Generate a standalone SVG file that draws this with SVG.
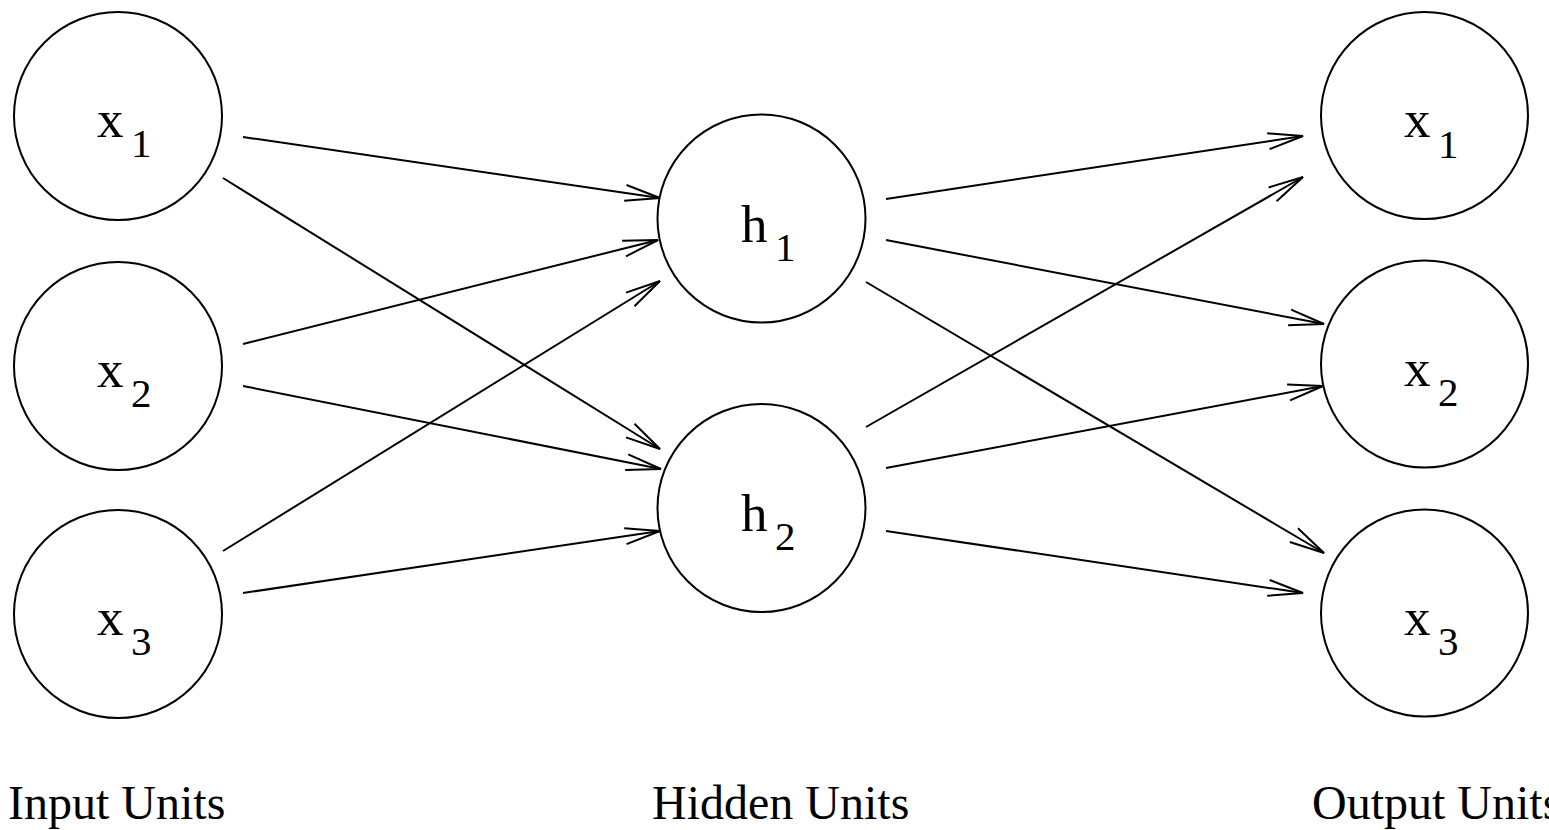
<svg xmlns="http://www.w3.org/2000/svg" width="1549" height="830" viewBox="0 0 1549 830">
<style>
.node circle{fill:#fff;stroke:#000;stroke-width:2}
.lbl{font-family:"Liberation Serif","Times New Roman",serif;font-size:53px;fill:#000}
.sub{font-family:"Liberation Serif","Times New Roman",serif;font-size:41px;fill:#000}
.cap{font-family:"Liberation Serif","Times New Roman",serif;font-size:48px;fill:#000}
#edges line{stroke:#000;stroke-width:2;fill:none;marker-end:url(#arr)}
</style>
<defs>
<marker id="arr" markerUnits="userSpaceOnUse" markerWidth="40" markerHeight="20" viewBox="-37 -10 40 20" refX="0" refY="0" orient="auto" overflow="visible">
<path d="M-35,-8 L0,0 L-35,8" fill="none" stroke="#000" stroke-width="2"/>
</marker>
</defs>
<rect width="1549" height="830" fill="#fff"/>
<g id="edges">
<line x1="243" y1="137" x2="660" y2="198"/>
<line x1="223" y1="178" x2="660" y2="449"/>
<line x1="243" y1="344" x2="658" y2="240"/>
<line x1="243" y1="386" x2="661" y2="469"/>
<line x1="223" y1="551" x2="660" y2="281"/>
<line x1="243" y1="593" x2="660" y2="531"/>
<line x1="886" y1="199" x2="1303" y2="136"/>
<line x1="886" y1="240" x2="1324" y2="324"/>
<line x1="866" y1="282" x2="1324" y2="553"/>
<line x1="866" y1="427" x2="1303" y2="177"/>
<line x1="886" y1="468" x2="1323" y2="386"/>
<line x1="886" y1="531" x2="1303" y2="593"/>
</g>
<g id="in1" class="node"><circle cx="118" cy="116" r="104"/><text class="lbl" x="97" y="137">x</text><text class="sub" x="131" y="157">1</text></g>
<g id="in2" class="node"><circle cx="118" cy="366" r="104"/><text class="lbl" x="97" y="387">x</text><text class="sub" x="131" y="407">2</text></g>
<g id="in3" class="node"><circle cx="118" cy="614" r="104"/><text class="lbl" x="97" y="635">x</text><text class="sub" x="131" y="655">3</text></g>
<g id="h1" class="node"><circle cx="761.5" cy="218.5" r="104"/><text class="lbl" x="741" y="242">h</text><text class="sub" x="775" y="261">1</text></g>
<g id="h2" class="node"><circle cx="761.5" cy="508" r="104"/><text class="lbl" x="741" y="531">h</text><text class="sub" x="775" y="550">2</text></g>
<g id="out1" class="node"><circle cx="1424.5" cy="115.5" r="103.5"/><text class="lbl" x="1404" y="137">x</text><text class="sub" x="1438" y="158">1</text></g>
<g id="out2" class="node"><circle cx="1424.5" cy="364" r="103.5"/><text class="lbl" x="1404" y="386">x</text><text class="sub" x="1438" y="406">2</text></g>
<g id="out3" class="node"><circle cx="1424.5" cy="613" r="103.5"/><text class="lbl" x="1404" y="635">x</text><text class="sub" x="1438" y="655">3</text></g>
<g id="captions">
<text class="cap" x="8" y="819">Input Units</text>
<text class="cap" x="652" y="819">Hidden Units</text>
<text class="cap" x="1312" y="819">Output Units</text>
</g>
</svg>
